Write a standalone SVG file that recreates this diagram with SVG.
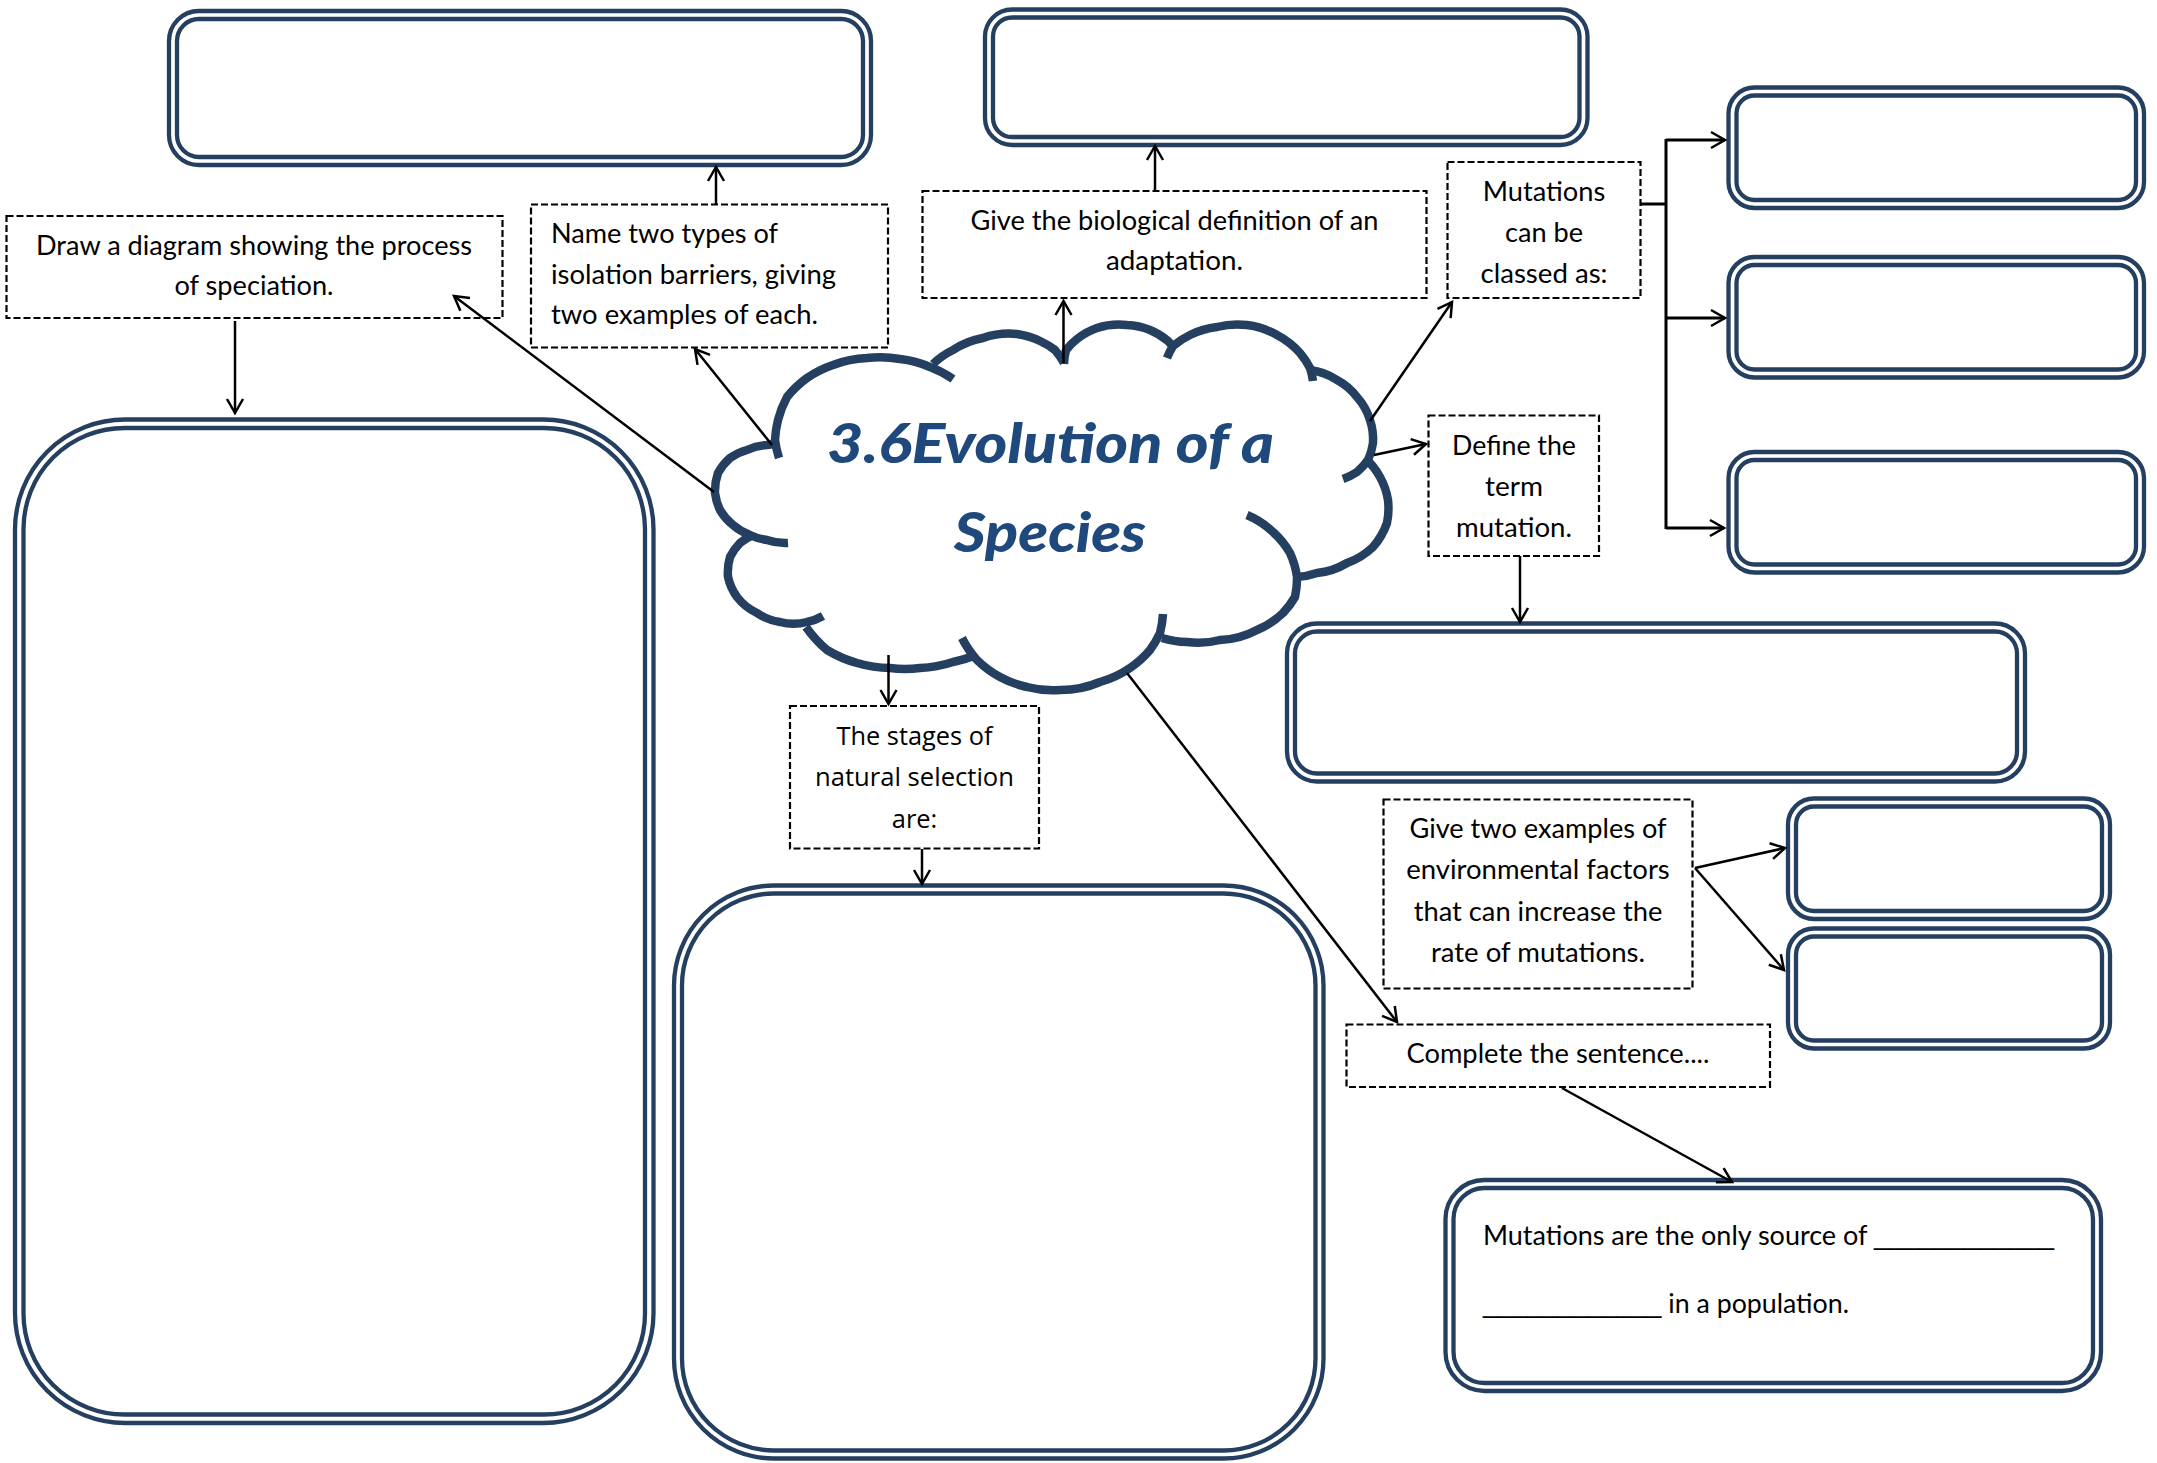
<svg xmlns="http://www.w3.org/2000/svg" width="2157" height="1463" viewBox="0 0 2157 1463">
<style>
.dbl{fill:none;stroke:#243F60;stroke-width:4.3}
.dash{fill:#fff;stroke:#000;stroke-width:2.2;stroke-dasharray:7 3}
.t{font-family:Lato,"Liberation Sans",sans-serif;font-size:26px;fill:#000}
.u{font-family:"Liberation Sans",sans-serif}
.m{text-anchor:middle}
.os{font-family:"Open Sans","Liberation Sans",sans-serif;font-size:25px;fill:#000;text-anchor:middle}
.title{font-family:Lato,"Liberation Sans",sans-serif;font-weight:900;font-style:italic;font-size:56px;fill:#1F497D;text-anchor:middle}
.cl{fill:none;stroke:#243F60;stroke-width:8.5}
.conn{fill:none;stroke:#000;stroke-width:2.5;marker-end:url(#ah)}
.br{fill:none;stroke:#000;stroke-width:3}
</style>
<defs>
<marker id="ah" markerUnits="userSpaceOnUse" markerWidth="20" markerHeight="20" refX="16" refY="9" orient="auto" overflow="visible">
<path d="M2,1 L16,9 L2,17" fill="none" stroke="#000" stroke-width="2.5"/>
</marker>
</defs>
<rect width="2157" height="1463" fill="#fff"/>

<g id="box-isolation-answer"><rect class="dbl" x="169" y="11" width="702" height="154" rx="30"/><rect class="dbl" x="177" y="19" width="686" height="138" rx="22"/></g>
<g id="box-adaptation-answer"><rect class="dbl" x="985" y="9.5" width="602.5" height="135.5" rx="27"/><rect class="dbl" x="993" y="17.5" width="586.5" height="119.5" rx="19"/></g>
<g id="box-class-1"><rect class="dbl" x="1728.5" y="87.5" width="415.5" height="120.5" rx="26"/><rect class="dbl" x="1736.5" y="95.5" width="399.5" height="104.5" rx="18"/></g>
<g id="box-class-2"><rect class="dbl" x="1728.5" y="257" width="415.5" height="120.5" rx="26"/><rect class="dbl" x="1736.5" y="265" width="399.5" height="104.5" rx="18"/></g>
<g id="box-class-3"><rect class="dbl" x="1728.5" y="452" width="415.5" height="120.5" rx="26"/><rect class="dbl" x="1736.5" y="460" width="399.5" height="104.5" rx="18"/></g>
<g id="box-mutation-answer"><rect class="dbl" x="1287" y="623.5" width="738" height="158" rx="30"/><rect class="dbl" x="1295" y="631.5" width="722" height="142" rx="22"/></g>
<g id="box-factor-1"><rect class="dbl" x="1788" y="798.5" width="322" height="120.5" rx="26"/><rect class="dbl" x="1796" y="806.5" width="306" height="104.5" rx="18"/></g>
<g id="box-factor-2"><rect class="dbl" x="1788" y="928.5" width="322" height="120" rx="26"/><rect class="dbl" x="1796" y="936.5" width="306" height="104" rx="18"/></g>
<g id="box-sentence">
<rect class="dbl" x="1445.5" y="1180" width="655.5" height="211" rx="39"/><rect class="dbl" x="1453.5" y="1188" width="639.5" height="195" rx="31"/>
<text class="t" x="1483" y="1245" textLength="571" lengthAdjust="spacingAndGlyphs">Mutations are the only source of <tspan class="u">____________</tspan></text>
<text class="t" x="1483" y="1313" textLength="366" lengthAdjust="spacingAndGlyphs"><tspan class="u">____________</tspan> in a population.</text>
</g>
<g id="box-speciation-answer"><rect class="dbl" x="15" y="419.5" width="638.5" height="1003.5" rx="110"/><rect class="dbl" x="23.5" y="428" width="621.5" height="986.5" rx="101"/></g>
<g id="box-stages-answer"><rect class="dbl" x="674" y="885.5" width="649.5" height="573" rx="100"/><rect class="dbl" x="682" y="893.5" width="633.5" height="557" rx="92"/></g>

<g id="q-speciation">
<rect class="dash" x="6.5" y="216" width="496" height="102"/>
<text class="t m" x="254" y="255" textLength="436" lengthAdjust="spacingAndGlyphs">Draw a diagram showing the process</text>
<text class="t m" x="254" y="295" textLength="159" lengthAdjust="spacingAndGlyphs">of speciation.</text>
</g>
<g id="q-isolation">
<rect class="dash" x="531" y="204.5" width="357" height="143"/>
<text class="t" x="551" y="243" textLength="227" lengthAdjust="spacingAndGlyphs">Name two types of</text>
<text class="t" x="551" y="284" textLength="285" lengthAdjust="spacingAndGlyphs">isolation barriers, giving</text>
<text class="t" x="551" y="324" textLength="267" lengthAdjust="spacingAndGlyphs">two examples of each.</text>
</g>
<g id="q-adaptation">
<rect class="dash" x="922.5" y="191" width="504" height="107"/>
<text class="t m" x="1174.5" y="230" textLength="408" lengthAdjust="spacingAndGlyphs">Give the biological definition of an</text>
<text class="t m" x="1174.5" y="270" textLength="137" lengthAdjust="spacingAndGlyphs">adaptation.</text>
</g>
<g id="q-classed">
<rect class="dash" x="1447.5" y="162" width="193" height="136"/>
<text class="t m" x="1544" y="201" textLength="122.5" lengthAdjust="spacingAndGlyphs">Mutations</text>
<text class="t m" x="1544" y="242" textLength="78" lengthAdjust="spacingAndGlyphs">can be</text>
<text class="t m" x="1544" y="283" textLength="127" lengthAdjust="spacingAndGlyphs">classed as:</text>
</g>
<g id="q-define">
<rect class="dash" x="1428.5" y="415.5" width="170.5" height="140.5"/>
<text class="t m" x="1514" y="455" textLength="124" lengthAdjust="spacingAndGlyphs">Define the</text>
<text class="t m" x="1514" y="496" textLength="58" lengthAdjust="spacingAndGlyphs">term</text>
<text class="t m" x="1514" y="537" textLength="116" lengthAdjust="spacingAndGlyphs">mutation.</text>
</g>
<g id="q-factors">
<rect class="dash" x="1383.5" y="799.5" width="309" height="189"/>
<text class="t m" x="1538" y="838" textLength="257" lengthAdjust="spacingAndGlyphs">Give two examples of</text>
<text class="t m" x="1538" y="879" textLength="263.5" lengthAdjust="spacingAndGlyphs">environmental factors</text>
<text class="t m" x="1538" y="921" textLength="248.7" lengthAdjust="spacingAndGlyphs">that can increase the</text>
<text class="t m" x="1538" y="962" textLength="214" lengthAdjust="spacingAndGlyphs">rate of mutations.</text>
</g>
<g id="q-complete">
<rect class="dash" x="1346.5" y="1024.5" width="423.5" height="62.5"/>
<text class="t m" x="1558" y="1063" textLength="303" lengthAdjust="spacingAndGlyphs">Complete the sentence....</text>
</g>
<g id="q-stages">
<rect class="dash" x="790" y="706" width="249" height="142.5"/>
<text class="os" x="914.5" y="745" textLength="156" lengthAdjust="spacingAndGlyphs">The stages of</text>
<text class="os" x="914.5" y="786" textLength="199" lengthAdjust="spacingAndGlyphs">natural selection</text>
<text class="os" x="914.5" y="828" textLength="45.5" lengthAdjust="spacingAndGlyphs">are:</text>
</g>

<g id="cloud">
<path class="cl" d="M788,543 A55,55 0 0 1 767,540 A55,55 0 0 1 750,535 A55,55 0 0 1 733,525 A55,55 0 0 1 720,510 A55,55 0 0 1 715,493 A55,55 0 0 1 718,473 A55,55 0 0 1 730,458 A55,55 0 0 1 747,450 A55,55 0 0 1 767,445 A55,55 0 0 1 778,444"/>
<path class="cl" d="M779,458 A105,105 0 0 1 775,440 A105,105 0 0 1 778,420 A105,105 0 0 1 787,397 A105,105 0 0 1 807,378 A105,105 0 0 1 833,365 A105,105 0 0 1 867,358 A105,105 0 0 1 900,359 A105,105 0 0 1 930,367 A105,105 0 0 1 953,379"/>
<path class="cl" d="M933,364 A80,80 0 0 1 953,350 A80,80 0 0 1 983,338 A80,80 0 0 1 1017,334 A80,80 0 0 1 1040,341 A80,80 0 0 1 1055,350 A80,80 0 0 1 1064,363"/>
<path class="cl" d="M1064,364 A68,68 0 0 1 1066,350 A68,68 0 0 1 1077,339 A68,68 0 0 1 1097,328 A68,68 0 0 1 1127,325 A68,68 0 0 1 1150,330 A68,68 0 0 1 1168,341 A68,68 0 0 1 1174,348"/>
<path class="cl" d="M1167,358 A80,80 0 0 1 1173,346 A80,80 0 0 1 1190,335 A80,80 0 0 1 1217,327 A80,80 0 0 1 1247,325 A80,80 0 0 1 1277,335 A80,80 0 0 1 1300,353 A80,80 0 0 1 1310,368 A80,80 0 0 1 1313,381"/>
<path class="cl" d="M1310,370 A62,62 0 0 1 1337,380 A62,62 0 0 1 1357,397 A62,62 0 0 1 1370,420 A62,62 0 0 1 1373,443 A62,62 0 0 1 1368,460 A62,62 0 0 1 1357,472 A62,62 0 0 1 1343,479"/>
<path class="cl" d="M1365,458 A72,72 0 0 1 1380,477 A72,72 0 0 1 1388,500 A72,72 0 0 1 1387,523 A72,72 0 0 1 1373,547 A72,72 0 0 1 1347,563 A72,72 0 0 1 1317,573 A72,72 0 0 1 1296,577"/>
<path class="cl" d="M1247,515 A85,85 0 0 1 1273,532 A85,85 0 0 1 1290,553 A85,85 0 0 1 1297,577 A85,85 0 0 1 1295,597 A85,85 0 0 1 1283,613 A85,85 0 0 1 1257,630 A85,85 0 0 1 1220,640 A85,85 0 0 1 1187,642 A85,85 0 0 1 1162,638"/>
<path class="cl" d="M1163,614 A100,100 0 0 1 1160,633 A100,100 0 0 1 1150,650 A100,100 0 0 1 1130,668 A100,100 0 0 1 1100,682 A100,100 0 0 1 1060,690 A100,100 0 0 1 1027,687 A100,100 0 0 1 1000,677 A100,100 0 0 1 977,660 A100,100 0 0 1 962,638"/>
<path class="cl" d="M976,655 A120,120 0 0 1 953,662 A120,120 0 0 1 920,668 A120,120 0 0 1 890,668 A120,120 0 0 1 857,663 A120,120 0 0 1 827,650 A120,120 0 0 1 806,627"/>
<path class="cl" d="M823,616 A55,55 0 0 1 807,622 A55,55 0 0 1 780,622 A55,55 0 0 1 757,613 A55,55 0 0 1 737,597 A55,55 0 0 1 728,577 A55,55 0 0 1 730,557 A55,55 0 0 1 740,543 A55,55 0 0 1 753,535"/>
<text class="title" x="1050.5" y="463" textLength="447" lengthAdjust="spacingAndGlyphs">3.6Evolution of a</text>
<text class="title" x="1050" y="552" textLength="192" lengthAdjust="spacingAndGlyphs">Species</text>
</g>

<g id="connectors">
<path class="conn" d="M235,321 L235,413"/>
<path class="conn" d="M716,204 L716,167"/>
<path class="conn" d="M714,492 L454,296"/>
<path class="conn" d="M772,445 L695,349"/>
<path class="conn" d="M1155,191 L1155,146"/>
<path class="conn" d="M1063.5,363 L1063.5,301"/>
<path class="conn" d="M1370,421 L1452,302"/>
<path class="conn" d="M1374,455 L1426,444"/>
<path class="conn" d="M1520,556 L1520,622"/>
<path class="br" d="M1640.5,204 H1666 M1666,139 V529"/>
<path class="conn" style="stroke-width:3" d="M1666,140 H1725"/>
<path class="conn" style="stroke-width:3" d="M1666,318 H1725"/>
<path class="conn" style="stroke-width:3" d="M1666,528 H1724"/>
<path class="conn" d="M888.5,655 L888.5,704"/>
<path class="conn" d="M922,849 L922,884"/>
<path class="conn" d="M1127,673 L1397,1022"/>
<path class="conn" d="M1695,868 L1785,848"/>
<path class="conn" d="M1695,868 L1784,970"/>
<path class="conn" d="M1562,1088 L1732,1182"/>
</g>
</svg>
